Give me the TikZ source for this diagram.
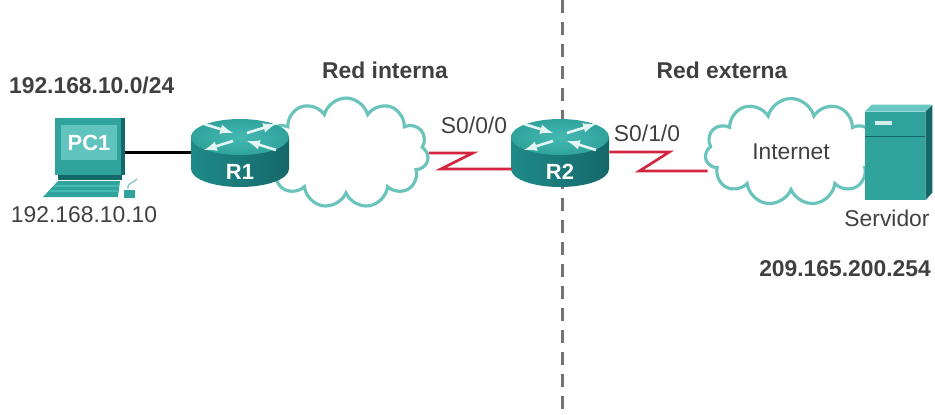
\documentclass[tikz,border=0pt]{standalone}
\usepackage{fontspec}
\setmainfont{Liberation Sans}
\usetikzlibrary{calc,positioning,shapes.symbols}
\definecolor{txt}{HTML}{404040}
\definecolor{tealA}{HTML}{1F8A88}
\definecolor{tealB}{HTML}{45B8B2}
\definecolor{tealC}{HTML}{15686A}
\definecolor{tealD}{HTML}{2FA39C}
\definecolor{cloudc}{HTML}{6AC4BB}
\definecolor{wan}{HTML}{D3253F}

\newcommand\router[3]{%
\begin{scope}[shift={#2}]
\shade[left color=tealA,middle color=tealB,right color=tealC]
  (-49,15) -- (-49,-17) arc[start angle=180,end angle=360,x radius=49,y radius=18] -- (49,15) -- cycle;
\shade[inner color=tealB,outer color=tealD] (0,15) ellipse[x radius=49,y radius=18];
\draw[rarrow] (-36,28) -- (-7,19);
\draw[rarrow] (36,2) -- (7,11);
\draw[rarrow] (7,19) -- (36,28);
\draw[rarrow] (-7,11) -- (-36,2);
\end{scope}
\node[routerbox] (#1) at #2 {};
\node[rtext] at ([yshift=-0.4cm]#1.center) {#3};
}

\begin{document}
\begin{tikzpicture}[x=0.02cm,y=0.02cm,
  lbl/.style={text=txt,font=\fontsize{13}{15}\selectfont,inner sep=1pt},
  blbl/.style={lbl,font=\fontsize{13}{15}\selectfont\bfseries},
  rtext/.style={text=white,font=\fontsize{12.5}{14}\selectfont\bfseries,inner sep=0pt},
  routerbox/.style={rectangle,minimum width=1.96cm,minimum height=1.4cm,inner sep=0pt},
  rarrow/.style={-latex,line width=1.5pt,draw=white!85!tealB},
  net/.style={cloud,cloud puffs=11,aspect=1.5,draw=cloudc,line width=1.8pt,fill=white,
    inner sep=0pt,text=txt,font=\fontsize{13}{15}\selectfont},
  monitor/.style={rectangle,fill=tealD,minimum width=1.4cm,minimum height=1.14cm,inner sep=0pt},
  screen/.style={rectangle,fill=tealB!85!white,minimum width=1.14cm,minimum height=0.7cm,
    inner sep=0pt,text=white,font=\fontsize{12.5}{14}\selectfont\bfseries},
  srvbox/.style={rectangle,fill=tealD,minimum width=1.2cm,minimum height=1.76cm,inner sep=0pt},
  lan/.style={line width=1.7pt,black},
  serial/.style={line width=1.5pt,wan,line join=miter},
  divider/.style={line width=1.7pt,black!55,dash pattern=on 0.26cm off 0.18cm}]
\useasboundingbox (0,0) rectangle (935,-414);

\draw[divider] (562,0) -- (562,-414);

\node[blbl,anchor=west] (lannet) at (7,-85) {192.168.10.0/24};
\node[blbl] (redint) at (385,-70) {Red interna};
\node[blbl] (redext) at (722,-70) {Red externa};

% PC1
\node[monitor] (pc1) at (90,-146.5) {};
\fill[tealC] (pc1.north east) rectangle ($(pc1.south east)+(-4,0)$);
\node[screen] (scr) at ([yshift=0.08cm,xshift=-0.02cm]pc1.center) {PC1};
\fill[tealC] ($(pc1.south west)+(3,0)$) rectangle ($(pc1.south east)+(-3,-5)$);
\fill[tealD] (58,-181) -- (120,-181) -- (118,-197) -- (43,-197) -- cycle;
\draw[tealB,line width=0.6pt] (54,-186) -- (119,-186) (50,-191) -- (118,-191);
\fill[tealD] (124,-190) rectangle (135,-198);
\draw[tealD!60,line width=0.8pt] (128,-189) .. controls (127,-182) and (133,-184) .. (137,-179);
\node[lbl] (pcip) at (84,-215) {192.168.10.10};

% clouds
\node[net,minimum width=3.3cm,minimum height=2.2cm] (net1) at (346,-153) {};
\node[net,minimum width=3.44cm,minimum height=2.14cm] (net2) at (791,-152) {Internet};

% Servidor
\node[srvbox] (srv) at (895,-156) {};
\fill[tealB!80!white] (srv.north west) -- ++(7,7) -- ++(60,0) -- (srv.north east) -- cycle;
\fill[tealC] (srv.north east) -- ++(7,7) -- ++(0,-88) -- (srv.south east) -- cycle;
\draw[tealC,line width=0.6pt] ($(srv.north west)+(0,-25)$) -- ($(srv.north east)+(0,-25)$);
\fill[white!75!tealB] ($(srv.north west)+(10,-9)$) rectangle ++(17,-4);
\node[lbl] (srvname) at (887,-218) {Servidor};
\node[blbl] (srvip) at (845,-269) {209.165.200.254};

% routers
\router{r1}{(240,-152)}{R1}
\router{r2}{(560,-152)}{R2}

\draw[lan] (pc1.east |- r1.west) -- (r1.west);
\draw[serial] (net1.east) -- ++(44,0) -- ++(-32,-16) -- ($(r2.west)+(1,-17)$);
\draw[serial] (r2.east) -- ++(60,0) -- ++(-30,-19) -- ($(net2.west)+(3,-19)$);

\node[lbl] (s000) at (474,-125) {S0/0/0};
\node[lbl] (s010) at (647,-133) {S0/1/0};
\end{tikzpicture}
\end{document}
